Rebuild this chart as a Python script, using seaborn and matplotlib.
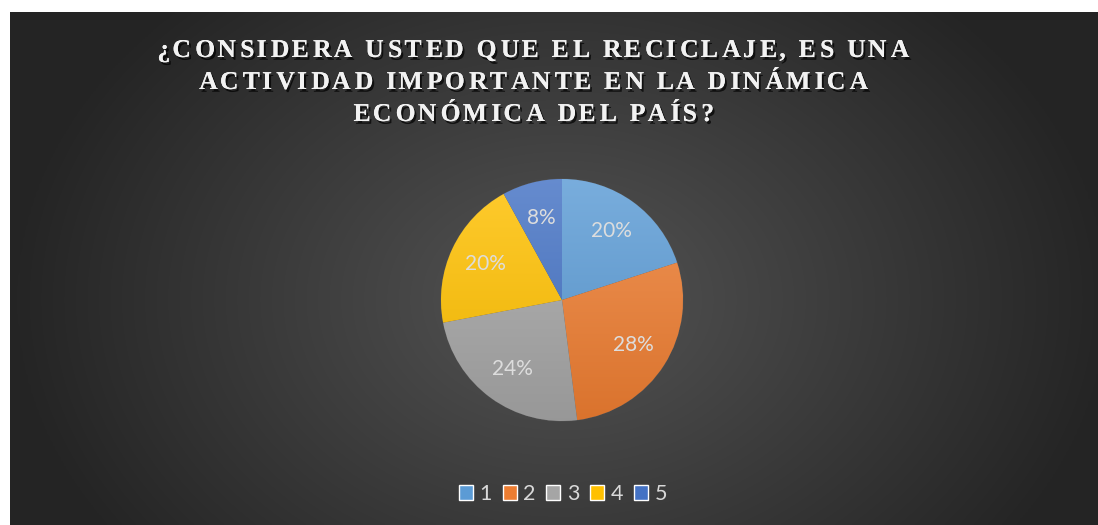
import numpy as np
import matplotlib
matplotlib.use("Agg")
import matplotlib.pyplot as plt
import matplotlib.patheffects as pe
from matplotlib.patches import Rectangle
from matplotlib.colors import to_rgb
import seaborn as sns

# survey answers and their shares
categories = ["1", "2", "3", "4", "5"]
shares = [20, 28, 24, 20, 8]
slice_colors = ["#5B9BD5", "#ED7D31", "#A5A5A5", "#FFC000", "#4472C4"]
title_lines = ["¿CONSIDERA USTED QUE EL RECICLAJE, ES UNA",
               "ACTIVIDAD IMPORTANTE EN LA DINÁMICA",
               "ECONÓMICA DEL PAÍS?"]

sns.set_theme(style="white")
plt.rcParams["font.family"] = ["Lato", "DejaVu Sans"]

W, H = 1098, 525
fig = plt.figure(figsize=(W / 100, H / 100), dpi=100)
fig.patch.set_facecolor("white")

# dark radial background of the chart area (white strip left and top)
bg = fig.add_axes([10 / W, 0, 1 - 10 / W, 1 - 12 / H])
gx = np.linspace(10, W, 400)
gy = np.linspace(12, H, 200)
X, Y = np.meshgrid(gx, gy)
d = np.sqrt(((X - 562) / 560) ** 2 + ((Y - 300) / 420) ** 2)
shade = np.clip(0.33 - 0.19 * d, 0.145, 0.33)
bg.imshow(np.dstack([shade] * 3), extent=(0, 1, 0, 1), origin="upper",
          aspect="auto", interpolation="bilinear")
bg.set_axis_off()


def track(s):
    # letter spacing: alternate one and two hair spaces between characters
    out = s[0]
    for k, ch in enumerate(s[1:]):
        out += ("\u200a" if k % 2 == 0 else "\u200a\u200a") + ch
    return out


# title with tracking and shadow
for i, line in enumerate(title_lines):
    fig.text(534 / W, 1 - (50.5 + 32 * i) / H, track(line), ha="center", va="center",
             color="#F2F2F2", fontsize=18.5, fontweight="bold",
             family=["Liberation Serif", "DejaVu Serif"],
             path_effects=[pe.withSimplePatchShadow(offset=(1.5, -2), shadow_rgbFace="black", alpha=0.7),
                           pe.Normal()])

# pie
R = 121
half = 125
ax = fig.add_axes([(562 - half) / W, (H - 300 - half) / H, 2 * half / W, 2 * half / H])
wedges, texts = ax.pie(shares, colors=slice_colors, startangle=90, counterclock=False,
                       labels=[f"{v}%" for v in shares], labeldistance=0.7,
                       wedgeprops=dict(linewidth=0.6, edgecolor="#555555"),
                       textprops=dict(color="#DDDDDD", fontsize=15))
for t in texts:
    t.set_ha("center")
    t.set_va("center")
lim = half / R

# vertical gradient on every slice
for w, c in zip(wedges, slice_colors):
    base = np.array(to_rgb(c))
    top = base + (1 - base) * 0.18
    bot = base * 0.92
    t = np.linspace(0, 1, 100)[:, None]
    grad = top[None, :] * (1 - t) + bot[None, :] * t
    img = np.repeat(grad[:, None, :], 2, axis=1)
    im = ax.imshow(img, extent=(-1, 1, -1, 1), origin="upper", aspect="auto",
                   interpolation="bilinear", zorder=w.get_zorder() + 0.1)
    im.set_clip_path(w)
for t in texts:
    t.set_zorder(5)
ax.set_xlim(-lim, lim)
ax.set_ylim(-lim, lim)
ax.set_axis_off()

# legend
handles = [Rectangle((0, 0), 1, 1, facecolor=c) for c in slice_colors]
fig.legend(handles, categories, loc="center", bbox_to_anchor=(563 / W, 1 - 494 / H),
           ncol=5, frameon=False, fontsize=15.5, labelcolor="#D9D9D9",
           handlelength=0.65, handleheight=0.65, handletextpad=0.3, columnspacing=0.5)

fig.savefig("out.png", dpi=100)
